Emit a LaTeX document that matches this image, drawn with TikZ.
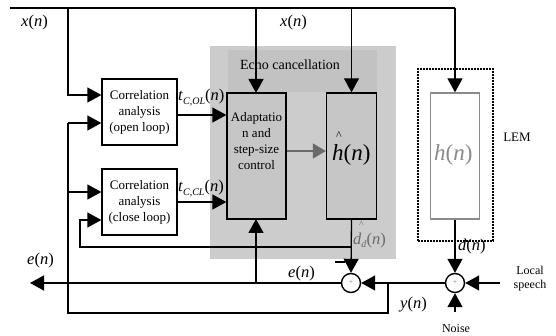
\documentclass[tikz,border=0pt]{standalone}
\usepackage{fontspec}
\setmainfont{Liberation Serif}
\usetikzlibrary{arrows.meta,calc}
\definecolor{regiong}{HTML}{CCCCCC}
\definecolor{titleg}{HTML}{C2C2C2}
\definecolor{boxg}{HTML}{C6C6C6}
\definecolor{lemg}{HTML}{8A8A8A}
\definecolor{darkg}{HTML}{6A6A6A}
\newcommand{\boxfont}{\fontsize{13}{16}\selectfont}
\newcommand{\labfont}{\fontsize{16.5}{18}\selectfont}
\newcommand{\bigfont}{\fontsize{23}{25}\selectfont}
\tikzset{
  wire/.style={line width=1.3pt},
  arr/.style={wire,-{Triangle[length=14pt,width=15pt]}},
  garr/.style={line width=1.3pt,draw=darkg,-{Triangle[length=13pt,width=15pt]}},
  blk/.style={draw,line width=1.3pt,inner sep=0pt,align=center,font=\boxfont},
  sumn/.style={circle,draw,line width=1.4pt,fill=white,minimum size=19pt,inner sep=0pt,font=\fontsize{7}{7}\selectfont,text=darkg},
  lab/.style={inner sep=0pt,font=\labfont,anchor=base west},
  txt/.style={inner sep=0pt,align=center},
}
\begin{document}
\begin{tikzpicture}[x=1pt,y=-1pt]
\useasboundingbox (0,0) rectangle (556,336);
% grey regions
\node[fill=regiong,minimum width=186pt,minimum height=213pt,inner sep=0pt] (ecreg) at (303,152.5) {};
\node[fill=titleg,minimum width=149pt,minimum height=42pt,inner sep=0pt] (ectitle) at (302.5,71) {};
\node[txt,font=\fontsize{14}{16}\selectfont] (ectxt) at (290,65) {Echo cancellation};
% blocks
\node[blk,fill=white,minimum width=75pt,minimum height=66pt] (oll) at (139.5,112) {Correlation\\analysis\\(open loop)};
\node[blk,fill=white,minimum width=75pt,minimum height=66pt] (ocl) at (139.5,202) {Correlation\\analysis\\(close loop)};
\node[blk,fill=boxg,minimum width=59pt,minimum height=126pt] (adapt) at (256.5,156) {};
\node[txt,font=\boxfont] (adtxt) at (256.5,141) {Adaptatio\\n and\\step-size\\control};
\node[blk,fill=boxg,minimum width=50pt,minimum height=126pt] (hhat) at (351.5,156) {};
\node[inner sep=0pt,anchor=base west,font=\bigfont] (hhtxt) at (332,161) {\makebox[0pt][l]{\hspace{4pt}\raisebox{21pt}{\fontsize{12}{12}\selectfont\^{}}}\textit{h}(\textit{n})};
\node[draw,line width=1.6pt,dash pattern=on 1.6pt off 1.4pt,minimum width=75pt,minimum height=172pt,inner sep=0pt] (lem) at (455.5,155) {};
\node[draw=lemg,line width=1.3pt,fill=white,minimum width=49pt,minimum height=126pt,inner sep=0pt] (hbox) at (455,156) {};
\node[inner sep=0pt,anchor=base west,font=\bigfont,text=lemg] (htxt) at (434,161) {\textit{h}(\textit{n})};
\node[txt,font=\fontsize{13}{15}\selectfont] (lemtxt) at (517,137) {LEM};
% summing nodes
\node[sumn] (s1) at (351,283) {+};
\node[sumn] (s2) at (455,283) {+};
% coordinates
\coordinate (tl) at (10,8);
\coordinate (tr) at (455,8);
\coordinate (xd) at (68,95);
\coordinate (yt) at (68,123);
\coordinate (ym) at (68,192);
\coordinate (ybl) at (68,313);
\coordinate (ybr) at (388,313);
\coordinate (ysp) at (388,283);
\coordinate (fbR) at (351,247);
\coordinate (fbL) at (80,247);
\coordinate (fbU) at (80,220);
\coordinate (eend) at (30,283);
\coordinate (esp) at (256,283);
\coordinate (lsp) at (500,283);
\coordinate (nz) at (455,312);
% top x(n) bus
\draw[wire] (tl) -- (tr);
\draw[arr] (tr) -- (hbox.north);
\draw[arr] (hhat.north |- tl) -- (hhat.north);
\draw[arr] (256,8) -- (256,93);
\draw[arr] (68,8) -- (xd) -- (xd -| oll.west);
% correlation outputs
\draw[arr] (oll.east |- 0,115) -- (adapt.west |- 0,115);
\draw[arr] (ocl.east |- 0,202) -- (adapt.west |- 0,202);
\draw[garr] (adapt.east |- 0,151) -- (hhat.west |- 0,151);
% y(n) feed
\draw[wire] (ysp) -- (ybr) -- (ybl) -- (yt);
\draw[arr] (yt) -- (yt -| oll.west);
\draw[arr] (ym) -- (ym -| ocl.west);
% feedback d_d
\draw[arr] (fbR) -- (fbL) -- (fbU) -- (fbU -| ocl.west);
% outputs to sums
\draw[arr] (hhat.south) -- (s1.north);
\draw[arr] (hbox.south) -- (s2.north);
\draw[arr] (s2.west) -- (s1.east);
\draw[arr] (lsp) -- (s2.east);
\draw[arr] (nz) -- (s2.south);
% e(n)
\draw[arr] (s1.west) -- (eend);
\draw[arr] (esp) -- (256,219);
% minus sign
\draw[wire] (335,262) -- (345,262);
% labels
\node[lab] (lx1) at (21,27) {\textit{x}(\textit{n})};
\node[lab] (lx2) at (280,27) {\textit{x}(\textit{n})};
\node[lab] (ltol) at (178,101) {\textit{t}\raisebox{-4pt}{\fontsize{10}{10}\selectfont\textit{C,OL}}(\textit{n})};
\node[lab] (ltcl) at (178,192) {\textit{t}\raisebox{-4pt}{\fontsize{10}{10}\selectfont\textit{C,CL}}(\textit{n})};
\node[lab] (le1) at (27,265) {\textit{e}(\textit{n})};
\node[lab] (le2) at (288,277) {\textit{e}(\textit{n})};
\node[lab] (ly) at (400,308) {\textit{y}(\textit{n})};
\node[lab] (ld) at (458,251) {\textit{d}(\textit{n})};
\node[lab,text=darkg] (ldd) at (353,245) {\makebox[0pt][l]{\hspace{6pt}\raisebox{17pt}{\fontsize{10}{10}\selectfont\^{}}}\textit{d}\raisebox{-3pt}{\fontsize{10}{10}\selectfont\textit{d}}(\textit{n})};
\node[txt,font=\fontsize{12}{14}\selectfont] (lls) at (530,279) {Local\\speech};
\node[txt,font=\fontsize{12}{14}\selectfont] (lnz) at (456,329) {Noise};
\end{tikzpicture}
\end{document}
